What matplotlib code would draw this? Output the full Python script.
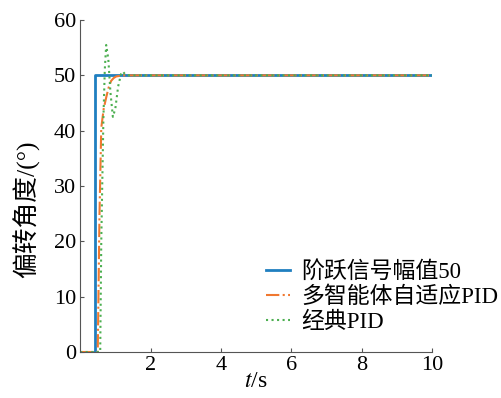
import matplotlib
matplotlib.use('Agg')
import matplotlib.pyplot as plt
import numpy as np

plt.rcParams['font.family'] = ['Liberation Serif', 'Noto Sans CJK SC']
plt.rcParams['mathtext.fontset'] = 'stix'

# step input, amplitude 50
t_step = [0, 0.43, 0.43, 10]
y_step = [0, 0, 50, 50]

# multi-agent adaptive PID
t_ma = [0, 0.50, 0.55, 0.60, 0.67, 0.74, 0.81, 0.88, 0.95, 1.02, 1.2, 10]
y_ma = [0, 0, 25, 40.5, 44, 46, 47.8, 49, 49.5, 49.8, 50, 50]

# classic PID
t_pid = [0, 0.57, 0.60, 0.66, 0.70, 0.74, 0.80, 0.86, 0.93, 1.00, 1.08, 1.16, 1.21, 1.28, 1.4, 10]
y_pid = [0, 0, 20, 42, 51, 55.5, 53, 47, 42.5, 44, 48, 50.2, 50.7, 50.2, 50, 50]

fig = plt.figure(figsize=(5.01, 3.98), dpi=100)
ax = fig.add_axes([0.16, 0.1156, 0.702, 0.834])

ax.plot(t_step, y_step, color='#1f7fc0', lw=2, label='阶跃信号幅值50')
ax.plot(t_ma, y_ma, color='#f07830', lw=1.5, ls='-.', label='多智能体自适应PID')
ax.plot(t_pid, y_pid, color='#4caf50', lw=1.5, ls=':', label='经典PID')

ax.set_xlim(0, 10)
ax.set_ylim(0, 60)
ax.set_xticks([2, 4, 6, 8, 10])
ax.set_yticks([0, 10, 20, 30, 40, 50, 60])
ax.tick_params(direction='in', length=3, labelsize=16, color='#555555', pad=3)
for s in ['top', 'right']:
    ax.spines[s].set_visible(False)
for s in ['left', 'bottom']:
    ax.spines[s].set_color('#555555')

ax.set_xlabel('$t$/s', fontsize=17, labelpad=-3)
ax.set_ylabel('偏转角度/(°)', fontsize=18.5)
ax.yaxis.set_label_coords(-0.115, 0.43)

ax.legend(loc='lower right', frameon=False, fontsize=16.5, handlelength=1.05,
          handletextpad=0.5, labelspacing=0.15, borderaxespad=0.0,
          bbox_to_anchor=(1.215, 0.03))

fig.savefig('out.png', dpi=100)
